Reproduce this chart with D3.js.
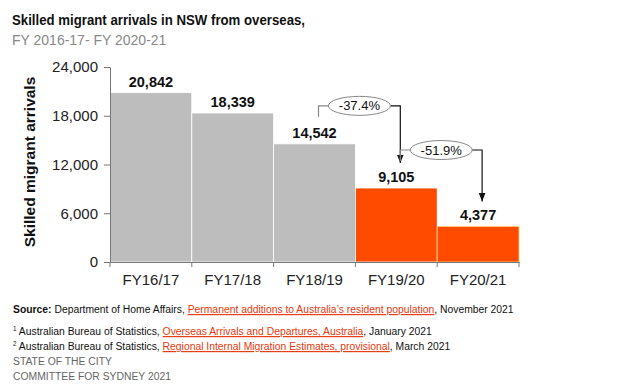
<!DOCTYPE html>
<html>
<head>
<meta charset="utf-8">
<script src="https://cdn.jsdelivr.net/npm/d3@7"></script>
<style>
  body { margin: 0; background: #fff; }
  svg text { font-family: "Liberation Sans", Arial, sans-serif; }
</style>
</head>
<body>
<div id="chart"></div>
<script>
var years = ["FY16/17", "FY17/18", "FY18/19", "FY19/20", "FY20/21"];
var arrivals = [20842, 18339, 14542, 9105, 4377];
var barColors = ["#bdbdbd", "#bdbdbd", "#bdbdbd", "#ff4b00", "#ff4b00"];
var yTicks = [0, 6000, 12000, 18000, 24000];
var changes = [
  { from: 2, to: 3, label: "-37.4%" },
  { from: 3, to: 4, label: "-51.9%" }
];

var width = 626, height = 389;
var svg = d3.select("#chart").append("svg")
            .attr("width", width)
            .attr("height", height);

var x = d3.scaleBand().domain(years).range([110, 519]).padding(0);
var y = d3.scaleLinear().domain([0, 24000]).range([262, 67]);

// title
svg.append("text").attr("x", 12).attr("y", 25)
   .style("font-size", "15px").style("font-weight", "bold").attr("fill", "#111")
   .attr("textLength", 293).attr("lengthAdjust", "spacingAndGlyphs")
   .text("Skilled migrant arrivals in NSW from overseas,");
svg.append("text").attr("x", 12).attr("y", 45)
   .style("font-size", "14px").attr("fill", "#888")
   .text("FY 2016-17- FY 2020-21");

// bars
svg.selectAll("rect.bar")
   .data(arrivals)
   .enter()
   .append("rect")
   .attr("class", "bar")
   .attr("x", function (d, i) { return x(years[i]); })
   .attr("y", function (d) { return y(d); })
   .attr("width", x.bandwidth())
   .attr("height", function (d) { return y(0) - y(d); })
   .style("fill", function (d, i) { return barColors[i]; })
   .style("stroke", function (d, i) { return i === 4 ? "#ffd27a" : "#fff"; })
   .style("stroke-width", 0.8);

// value labels
svg.selectAll("text.val")
   .data(arrivals)
   .enter()
   .append("text")
   .attr("class", "val")
   .attr("x", function (d, i) { return x(years[i]) + x.bandwidth() / 2; })
   .attr("y", function (d) { return y(d) - 6; })
   .attr("text-anchor", "middle")
   .style("font-size", "14.5px").style("font-weight", "bold").attr("fill", "#111")
   .text(function (d) { return d3.format(",")(d); });

// y axis
var yAxis = svg.append("g").attr("transform", "translate(110,0)")
   .call(d3.axisLeft(y).tickValues(yTicks).tickFormat(d3.format(",")).tickSize(6).tickSizeOuter(0));
yAxis.select(".domain").attr("stroke", "#777");
yAxis.selectAll(".tick line").attr("stroke", "#777");
yAxis.selectAll(".tick text").attr("fill", "#222").style("font-size", "15px")
   .style("font-family", "Liberation Sans, Arial, sans-serif").attr("x", -12);

// x axis
var xAxis = svg.append("g").attr("transform", "translate(0,262)")
   .call(d3.axisBottom(x).tickSize(0));
xAxis.select(".domain").attr("stroke", "#777");
xAxis.selectAll(".tick text").attr("fill", "#222").style("font-size", "15px")
   .style("font-family", "Liberation Sans, Arial, sans-serif").attr("dy", "1.35em");
xAxis.selectAll("line.sep")
   .data(d3.range(years.length + 1))
   .enter()
   .append("line")
   .attr("class", "sep")
   .attr("x1", function (i) { return 110 + i * x.bandwidth(); })
   .attr("x2", function (i) { return 110 + i * x.bandwidth(); })
   .attr("y1", 0).attr("y2", 5)
   .attr("stroke", "#777");

// y axis title
svg.append("text")
   .attr("transform", "translate(35,162) rotate(-90)")
   .attr("text-anchor", "middle")
   .style("font-size", "15.5px").style("font-weight", "bold").attr("fill", "#111")
   .text("Skilled migrant arrivals");

// change annotations
var defs = svg.append("defs");
defs.append("marker").attr("id", "arrow")
   .attr("viewBox", "0 0 10 10").attr("refX", 10).attr("refY", 5)
   .attr("markerWidth", 7).attr("markerHeight", 7).attr("orient", "auto")
   .append("path").attr("d", "M0,1 L10,5 L0,9 Z").attr("fill", "#111");

changes.forEach(function (c) {
  var x0 = x(years[c.from]) + x.bandwidth() / 2 + 4;
  var x1 = x(years[c.to]) + x.bandwidth() / 2 + 4;
  var yStart = y(arrivals[c.from]) - 27;
  var yTop = y(arrivals[c.from]) - 38;
  var yEnd = y(arrivals[c.to]) - 25;
  var cx = (x0 + x1) / 2;
  svg.append("path")
     .attr("d", "M" + x0 + "," + yStart + " V" + yTop + " H" + (cx - 31))
     .attr("fill", "none").attr("stroke", "#888").attr("stroke-width", 1.2);
  svg.append("path")
     .attr("d", "M" + (cx + 31) + "," + yTop + " H" + x1 + " V" + yEnd)
     .attr("fill", "none").attr("stroke", "#111").attr("stroke-width", 1.2)
     .attr("marker-end", "url(#arrow)");
  svg.append("ellipse").attr("cx", cx).attr("cy", yTop)
     .attr("rx", 31).attr("ry", 9.5)
     .attr("fill", "#fff").attr("stroke", "#888").attr("stroke-width", 1);
  svg.append("text").attr("x", cx).attr("y", yTop + 4.5)
     .attr("text-anchor", "middle")
     .style("font-size", "13px").attr("fill", "#111")
     .text(c.label);
});

// footer (condensed horizontally like the source)
var foot = svg.append("g").attr("transform", "translate(13,0) scale(0.9,1)")
   .style("font-size", "11.5px").attr("fill", "#111");
var s = foot.append("text").attr("x", 0).attr("y", 313);
s.append("tspan").style("font-weight", "bold").text("Source:");
s.append("tspan").text(" Department of Home Affairs, ");
s.append("tspan").attr("fill", "#e8380d").style("text-decoration", "underline")
 .text("Permanent additions to Australia\u2019s resident population");
s.append("tspan").text(", November 2021");

var f1 = foot.append("text").attr("x", 0).attr("y", 335);
f1.append("tspan").style("font-size", "7px").attr("dy", -4).text("1");
f1.append("tspan").attr("dy", 4).text(" Australian Bureau of Statistics, ");
f1.append("tspan").attr("fill", "#e8380d").style("text-decoration", "underline")
  .text("Overseas Arrivals and Departures, Australia");
f1.append("tspan").text(", January 2021");

var f2 = foot.append("text").attr("x", 0).attr("y", 350);
f2.append("tspan").style("font-size", "7px").attr("dy", -4).text("2");
f2.append("tspan").attr("dy", 4).text(" Australian Bureau of Statistics, ");
f2.append("tspan").attr("fill", "#e8380d").style("text-decoration", "underline")
  .text("Regional Internal Migration Estimates, provisional");
f2.append("tspan").text(", March 2021");

foot.append("text").attr("x", 0).attr("y", 365).attr("fill", "#666")
    .text("STATE OF THE CITY");
foot.append("text").attr("x", 0).attr("y", 380).attr("fill", "#666")
    .text("COMMITTEE FOR SYDNEY 2021");
</script>
</body>
</html>
